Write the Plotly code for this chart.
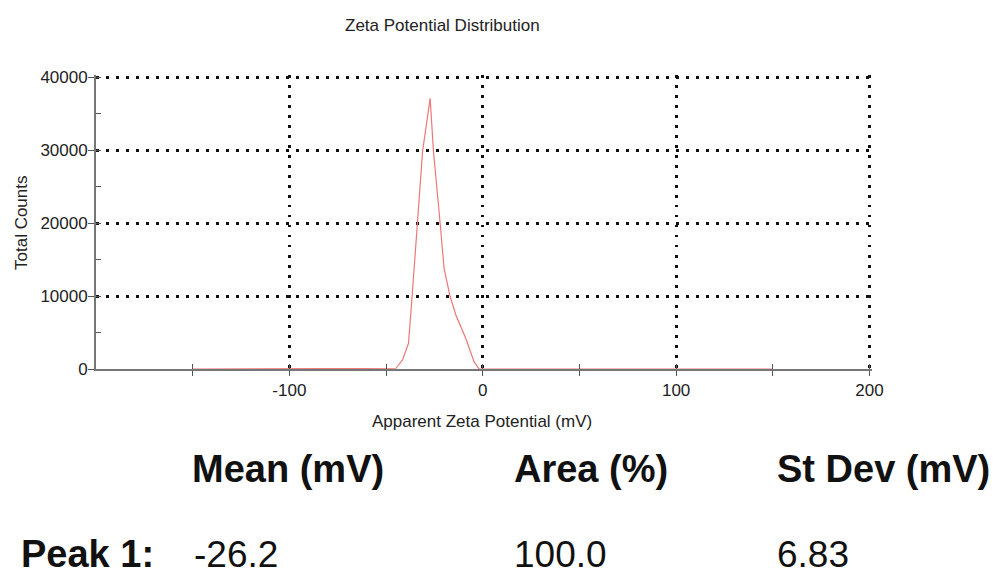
import plotly.graph_objects as go

# ---- data ----
zeta_mv = [-150, -46, -44.9, -41.5, -38.4, -36.5, -35.5, -33.5, -31.1, -27.2,
           -25.5, -22.0, -20.0, -17.0, -13.9, -8.8, -4.5, -1.9, 150]
total_counts = [0, 0, 100, 1230, 3520, 10040, 13790, 19900, 29860, 37080,
                29860, 19870, 13790, 10040, 7400, 4200, 1000, 0, 0]

x_tick_vals = [-100, 0, 100, 200]
x_tick_text = ["-100", "0", "100", "200"]
y_tick_vals = [0, 10000, 20000, 30000, 40000]
y_tick_text = ["0", "10000", "20000", "30000", "40000"]

headers = ["Mean (mV)", "Area (%)", "St Dev (mV)"]
row_label = "Peak 1:"
row_values = ["-26.2", "100.0", "6.83"]

title_text = "Zeta Potential Distribution"
x_title = "Apparent Zeta Potential (mV)"
y_title = "Total Counts"

# ---- layout geometry ----
W, H = 999, 578
ML, MR, MT, MB = 96, 127, 75, 209
PW, PH = W - ML - MR, H - MT - MB
X0 = -200
XPX = 773.5 / 400.0          # px per mV
YPX = 292.0 / 40000.0        # px per count
x_range = [X0, X0 + PW / XPX]
y_range = [0, PH / YPX]


def px2paper(px, py):
    return (px - ML) / PW, (H - MB - py) / PH


FONT = "Liberation Sans, Arial, sans-serif"
AXIS_GRAY = "#767676"
GRID_DASH = "2.5px,7.5px"

fig = go.Figure()
fig.add_trace(go.Scatter(x=zeta_mv, y=total_counts, mode="lines",
                         line=dict(color="#ee7777", width=1.2),
                         showlegend=False, hoverinfo="skip"))
# helper trace so the overlay axes (inner tick marks) are drawn
fig.add_trace(go.Scatter(x=[None], y=[None], xaxis="x2", yaxis="y2",
                         showlegend=False, hoverinfo="skip"))

fig.update_layout(
    width=W, height=H,
    margin=dict(l=ML, r=MR, t=MT, b=MB, pad=0),
    paper_bgcolor="white", plot_bgcolor="white",
    font=dict(family=FONT, size=17, color="#222222"),
    xaxis=dict(range=x_range, tickmode="array", tickvals=x_tick_vals,
               ticktext=x_tick_text, ticks="outside", ticklen=5,
               tickwidth=1.3, tickcolor="#555555",
               minor=dict(tickmode="array", tickvals=[-150, -50, 50, 150],
                          ticks="outside", ticklen=5, tickwidth=1.3,
                          tickcolor="#555555", showgrid=False),
               showgrid=True, gridcolor="#111111", gridwidth=2.5,
               griddash=GRID_DASH, zeroline=False,
               showline=True, linecolor=AXIS_GRAY, linewidth=1.8,
               layer="below traces", tickfont=dict(size=17)),
    yaxis=dict(range=y_range, tickmode="array", tickvals=y_tick_vals,
               ticktext=y_tick_text, ticks="outside", ticklen=6,
               tickwidth=1.3, tickcolor="#555555", ticklabelstandoff=-3,
               showgrid=True, gridcolor="#111111", gridwidth=2.5,
               griddash=GRID_DASH, zeroline=False,
               showline=True, linecolor=AXIS_GRAY, linewidth=1.8,
               layer="below traces", tickfont=dict(size=17)),
    xaxis2=dict(range=x_range, overlaying="x", anchor="y2", side="bottom",
                tickmode="array", tickvals=[-150, -100, -50, 0, 50, 100, 150, 200],
                ticks="inside", ticklen=5, tickwidth=1.3, tickcolor="#555555",
                showticklabels=False, showgrid=False, zeroline=False,
                showline=False),
    yaxis2=dict(range=y_range, overlaying="y", anchor="x2", side="left",
                tickmode="array",
                tickvals=[0, 5000, 10000, 15000, 20000, 25000, 30000, 35000, 40000],
                ticks="inside", ticklen=5, tickwidth=1.3, tickcolor="#555555",
                showticklabels=False, showgrid=False, zeroline=False,
                showline=False),
)

ann = []
# chart title and axis titles
tx, ty = px2paper(442.5, 25)
ann.append(dict(text=title_text, x=tx, y=ty, xref="paper", yref="paper",
                xanchor="center", yanchor="middle", showarrow=False,
                font=dict(size=17, color="#222222")))
tx, ty = px2paper(482, 421)
ann.append(dict(text=x_title, x=tx, y=ty, xref="paper", yref="paper",
                xanchor="center", yanchor="middle", showarrow=False,
                font=dict(size=17, color="#222222")))
tx, ty = px2paper(21, 223)
ann.append(dict(text=y_title, x=tx, y=ty, xref="paper", yref="paper",
                xanchor="center", yanchor="middle", showarrow=False,
                textangle=-90, font=dict(size=17, color="#222222")))

# summary table below the chart
col_px = [190, 512, 775]
for cx, h in zip(col_px, headers):
    ax_, ay_ = px2paper(cx, 469)
    ann.append(dict(text="<b>" + h + "</b>", x=ax_, y=ay_, xref="paper",
                    yref="paper", xanchor="left", yanchor="middle",
                    showarrow=False, font=dict(size=38, color="#111111")))
ax_, ay_ = px2paper(19, 554)
ann.append(dict(text="<b>" + row_label + "</b>", x=ax_, y=ay_, xref="paper",
                yref="paper", xanchor="left", yanchor="middle",
                showarrow=False, font=dict(size=38, color="#111111")))
for cx, v in zip([192, 512, 775], row_values):
    ax_, ay_ = px2paper(cx, 554)
    ann.append(dict(text=v, x=ax_, y=ay_, xref="paper", yref="paper",
                    xanchor="left", yanchor="middle", showarrow=False,
                    font=dict(size=37, color="#111111")))

fig.update_layout(annotations=ann)
fig.write_html("out.html")
